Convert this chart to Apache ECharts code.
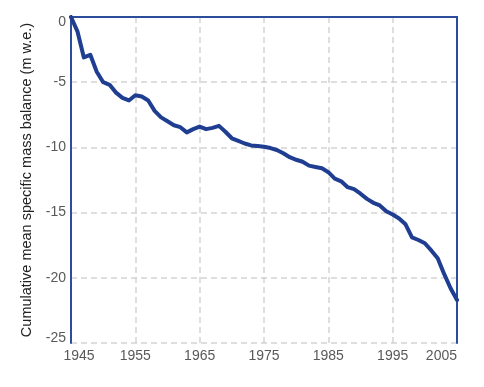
<!DOCTYPE html>
<html><head><meta charset="utf-8">
<script src="https://cdn.jsdelivr.net/npm/echarts@6/dist/echarts.min.js"></script>
<style>html,body{margin:0;padding:0;background:#fff}#c{width:484px;height:387px}</style>
</head><body><div id="c"></div>
<script>
var years = [];
for (var y = 1945; y <= 2005; y++) years.push(String(y));
var balance = [
 0, -1.1, -3.1, -2.9, -4.2, -5.0, -5.2, -5.8, -6.2, -6.4,
 -6.0, -6.1, -6.4, -7.2, -7.7, -8.0, -8.3, -8.45, -8.85, -8.6,
 -8.4, -8.6, -8.5, -8.35, -8.8, -9.3, -9.5, -9.7, -9.85, -9.9,
 -9.95, -10.05, -10.2, -10.45, -10.75, -10.95, -11.1, -11.4, -11.5, -11.6,
 -11.9, -12.4, -12.6, -13.05, -13.2, -13.55, -13.95, -14.25, -14.45, -14.9,
 -15.15, -15.45, -15.9, -16.9, -17.1, -17.35, -17.9, -18.5, -19.7, -20.8,
 -21.7
];
var yTicks = [0, -5, -10, -15, -20, -25];
var yTitle = 'Cumulative mean specific mass balance (m w.e.)';

var axisBlue = '#2c4c9c';
var lineBlue = '#1f3e91';
var gridGray = '#d4d4d4';
var font = 'Liberation Sans';
var lblStyle = {fontSize: 14, fontFamily: font, color: '#595959'};

var chart = echarts.init(document.getElementById('c'), null, {renderer: 'canvas'});
chart.setOption({
  animation: false,
  grid: {left: 71, right: 27, top: 17, bottom: 44},
  xAxis: [{
    type: 'category', data: years, boundaryGap: false, position: 'bottom',
    axisLine: {lineStyle: {color: axisBlue, width: 2}},
    axisTick: {show: false},
    axisLabel: {
      interval: 9, color: '#595959', fontSize: 14, fontFamily: font, margin: 6,
      alignMaxLabel: 'right',
      formatter: function (v) { return v === '1945' ? '{p|' + v + '}' : v; },
      rich: {p: Object.assign({padding: [0, 0, 0, 16]}, lblStyle)}
    },
    splitLine: {show: true, interval: 9, lineStyle: {color: gridGray, type: [6, 4], width: 1.5}}
  }, {
    type: 'category', data: years, boundaryGap: false, position: 'top',
    axisLine: {lineStyle: {color: axisBlue, width: 2, type: [8, 3]}},
    axisTick: {show: false}, axisLabel: {show: false}, splitLine: {show: false}
  }],
  yAxis: [{
    type: 'value', min: -25, max: 0, interval: 5,
    name: yTitle, nameLocation: 'middle', nameGap: 31,
    nameTextStyle: {color: '#222', fontSize: 14.5, fontFamily: font},
    axisLine: {show: true, lineStyle: {color: axisBlue, width: 2}},
    axisTick: {show: false},
    axisLabel: {color: '#595959', fontSize: 14, fontFamily: font, margin: 5,
      formatter: function (v) {
        if (yTicks.indexOf(v) < 0) return '';
        if (v === 0) return '{t|' + v + '}';
        if (v === -25) return '{b|' + v + '}';
        return String(v);
      },
      rich: {
        t: Object.assign({padding: [10, 0, 0, 0]}, lblStyle),
        b: Object.assign({padding: [0, 0, 10, 0]}, lblStyle)
      }},
    splitLine: {show: true, lineStyle: {color: gridGray, type: [6, 4], width: 1.5}}
  }, {
    type: 'value', min: -25, max: 0, interval: 5, position: 'right',
    axisLine: {show: true, lineStyle: {color: axisBlue, width: 2}},
    axisTick: {show: false}, axisLabel: {show: false}, splitLine: {show: false}
  }],
  series: [{
    type: 'line', data: balance, xAxisIndex: 0, yAxisIndex: 0,
    showSymbol: false, symbol: 'none',
    lineStyle: {color: lineBlue, width: 4, join: 'round', cap: 'round'}
  }]
});
</script></body></html>
